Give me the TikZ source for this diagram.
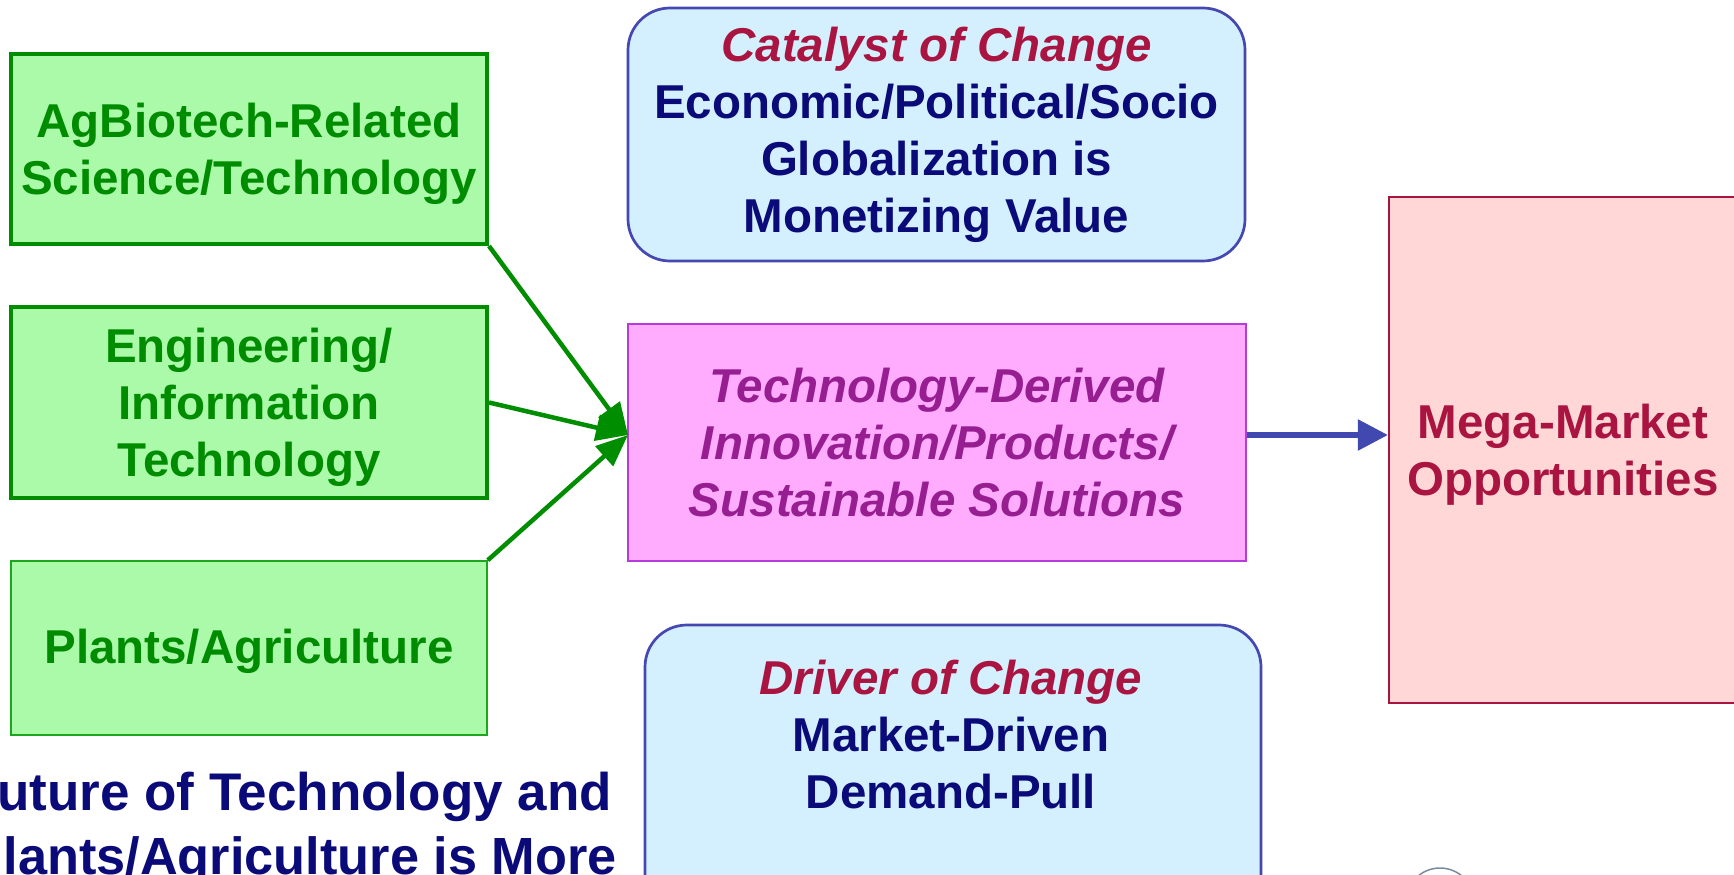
\documentclass[tikz,border=0pt]{standalone}
\usepackage{fontspec}
\setmainfont{Liberation Sans}
\usetikzlibrary{arrows.meta}
\definecolor{gfill}{RGB}{170,250,170}
\definecolor{gline}{RGB}{0,142,0}
\definecolor{gline3}{RGB}{30,165,30}
\definecolor{gtext}{RGB}{0,140,0}
\definecolor{bfill}{RGB}{212,240,255}
\definecolor{bline}{RGB}{70,72,178}
\definecolor{navy}{RGB}{10,10,120}
\definecolor{crim}{RGB}{170,20,65}
\definecolor{mfill}{RGB}{255,172,255}
\definecolor{mline}{RGB}{180,60,220}
\definecolor{mtext}{RGB}{150,30,145}
\definecolor{rfill}{RGB}{255,215,215}
\definecolor{arrowblue}{RGB}{65,72,175}
\begin{document}
\begin{tikzpicture}[x=1pt,y=-1pt,
  txt/.style={font=\fontsize{47.5}{57}\selectfont\bfseries, align=center, inner sep=0pt},
  gbox/.style={rectangle, draw=gline, fill=gfill, line width=4pt, minimum width=476pt, inner sep=0pt},
  gtxt/.style={txt, text=gtext},
  bbox/.style={txt, rectangle, rounded corners=42pt, draw=bline, fill=bfill, line width=2.7pt, text=navy},
  mbox/.style={txt, rectangle, draw=mline, fill=mfill, line width=2.7pt, text=mtext, minimum width=618pt, minimum height=237pt},
  rbox/.style={rectangle, draw=crim, fill=rfill, line width=2.2pt, minimum width=348pt, minimum height=506pt},
  captxt/.style={font=\fontsize{53}{64}\selectfont\bfseries, inner sep=0pt, text=navy, anchor=base east},
  garrow/.style={draw=gline, line width=4.5pt, -{Triangle[length=32pt,width=26pt]}},
  barrow/.style={draw=arrowblue, line width=5.5pt, -{Triangle[length=30pt,width=30pt]}}
]
\useasboundingbox (0,0) rectangle (1734,875);
\clip (0,0) rectangle (1734,875);

% left green boxes
\node[gbox, minimum height=190pt] (g1) at (249,149) {};
\node[gtxt] (g1t) at (249,154) {AgBiotech-Related\\Science/Technology};
\node[gbox, minimum height=191pt] (g2) at (249,402.5) {};
\node[gtxt] (g2t) at (249,407) {Engineering/\\Information\\Technology};
\node[gbox, minimum height=174pt, line width=1.5pt, draw=gline3] (g3) at (249,648) {};
\node[gtxt] (g3t) at (249,651.5) {Plants/Agriculture};

% centre column
\node[bbox, minimum width=617pt, minimum height=253pt] (cat) at (936.5,134.5)
  {{\itshape\color{crim}Catalyst of Change}\\Economic/Political/Socio\\Globalization is\\Monetizing Value};
\node[mbox] (m) at (937,442.5)
  {\itshape Technology-Derived\\\itshape Innovation/Products/\\\itshape Sustainable Solutions};
\node[bbox, minimum width=616pt, minimum height=290pt] (drv) at (953,770) {};
\node[txt, text=navy] (drvt) at (951,735)
  {{\itshape\color{crim}Driver of Change}\\Market-Driven\hspace*{15pt}\\Demand-Pull};

% right box
\node[rbox] (mega) at (1563,450) {};
\node[txt, text=crim] (megat) at (1563,454.5) {Mega-Market\\Opportunities};

% bottom-left caption (cut off by the frame in the reference)
\node[captxt] (cap1) at (612,810) {uture of Technology and};
\node[captxt, font=\fontsize{52.3}{64}\selectfont\bfseries] (cap2) at (617,874) {lants/Agriculture is More};

% small gray arc at bottom edge
\draw[color={rgb,255:red,120;green,140;blue,160}, line width=1.5pt] (1440,902) circle (34);

% connectors
\coordinate (tip) at (628,435);
\draw[garrow] (g1.south east) -- (tip);
\draw[garrow] (g2.east) -- (tip);
\draw[garrow] (g3.north east) -- (tip);
\draw[barrow] ([yshift=7.5pt]m.east) coordinate (a0) -- (a0 -| mega.west);
\end{tikzpicture}
\end{document}
